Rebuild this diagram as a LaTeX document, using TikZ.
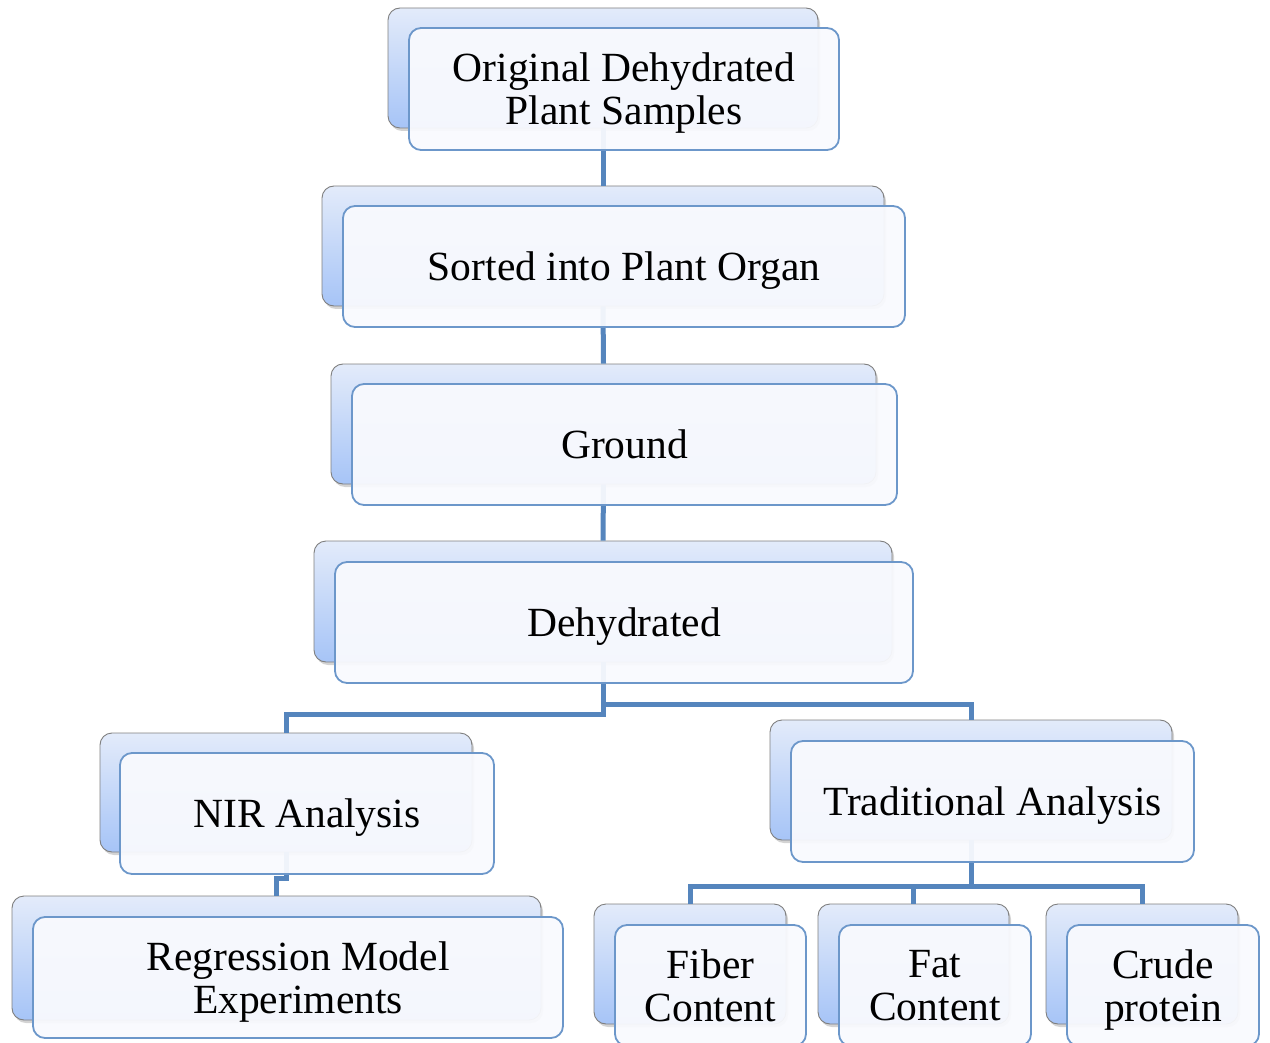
\documentclass[tikz,border=0pt]{standalone}
\usepackage{fontspec}
\setmainfont{Liberation Serif}
\usetikzlibrary{shadows}
\definecolor{backtop}{HTML}{E3EBFA}
\definecolor{backbot}{HTML}{A6C4F7}
\definecolor{backline}{HTML}{7F7F7F}
\definecolor{frontline}{HTML}{6C97CA}
\definecolor{frontfill}{HTML}{F9FAFE}
\definecolor{linkcol}{HTML}{5585BD}
\newcommand\boxfont{\fontsize{41.5}{43}\selectfont}
\tikzset{
  backbox/.style={draw=backline, line width=0.9pt, rounded corners=12pt,
    top color=backtop, bottom color=backbot, inner sep=0pt,
    drop shadow={opacity=0.35, shadow xshift=2pt, shadow yshift=-3pt}},
  frontbox/.style={draw=frontline, line width=1.8pt, rounded corners=12pt,
    fill=frontfill, fill opacity=0.94, inner sep=0pt},
  oneline/.style={font=\boxfont, inner sep=0pt, text height=27.5pt, text depth=0pt},
  twoline/.style={font=\boxfont, inner sep=0pt, align=center},
  link/.style={draw=linkcol, line width=5pt}
}
\begin{document}
\begin{tikzpicture}[x=1pt,y=-1pt]
\useasboundingbox (0,0) rectangle (1270,1043);
\clip (0,0) rectangle (1270,1043);

% back boxes
\node[backbox, minimum width=430, minimum height=120] (b1) at (603,68) {};
\node[backbox, minimum width=562, minimum height=120] (b2) at (603,246) {};
\node[backbox, minimum width=545, minimum height=120] (b3) at (603.5,424) {};
\node[backbox, minimum width=578, minimum height=121] (b4) at (603,601.5) {};
\node[backbox, minimum width=372, minimum height=119] (b5) at (286,792.5) {};
\node[backbox, minimum width=402, minimum height=120] (b6) at (971,780) {};
\node[backbox, minimum width=529, minimum height=124] (b7) at (276.5,958) {};
\node[backbox, minimum width=192, minimum height=120] (b8) at (690,964) {};
\node[backbox, minimum width=191, minimum height=120] (b9) at (913.5,964) {};
\node[backbox, minimum width=192, minimum height=120] (b10) at (1142,964) {};

% levels of the horizontal connector runs
\coordinate (lvlA) at (0,714);
\coordinate (lvlB) at (0,704);
\coordinate (lvlC) at (0,878);
\coordinate (lvlD) at (0,886);

% connectors
\draw[link] (b1.south) -- (b2.north);
\draw[link] (b2.south) -- (b3.north);
\draw[link] (b3.south) -- (b4.north);
\draw[link] (b4.south) -- (b4.south |- lvlA) -| (b5.north);
\draw[link] (b4.south |- lvlB) -| (b6.north);
\draw[link] (b5.south) -- (b5.south |- lvlC) -| (b7.north);
\draw[link] (b6.south) -- (b6.south |- lvlD);
\draw[link] (b8.north) |- (b10.north |- lvlD) -- (b10.north);
\draw[link] (b9.north) -- (b9.north |- lvlD);

% front boxes
\node[frontbox, minimum width=430, minimum height=122] (f1) at (624,89) {};
\node[frontbox, minimum width=562, minimum height=121] (f2) at (624,266.5) {};
\node[frontbox, minimum width=545, minimum height=121] (f3) at (624.5,444.5) {};
\node[frontbox, minimum width=578, minimum height=121] (f4) at (624,622.5) {};
\node[frontbox, minimum width=374, minimum height=121] (f5) at (307,813.5) {};
\node[frontbox, minimum width=403, minimum height=121] (f6) at (992.5,801.5) {};
\node[frontbox, minimum width=530, minimum height=121] (f7) at (298,977.5) {};
\node[frontbox, minimum width=191, minimum height=121] (f8) at (710.5,985.5) {};
\node[frontbox, minimum width=192, minimum height=121] (f9) at (935,985.5) {};
\node[frontbox, minimum width=192, minimum height=121] (f10) at (1163,985.5) {};

% labels
\node[twoline, yshift=-4.5pt] (t1) at (f1.center) {Original Dehydrated\\Plant Samples};
\node[oneline] (t2) at (f2.center) {Sorted into Plant Organ};
\node[oneline] (t3) at (f3.center) {Ground};
\node[oneline] (t4) at (f4.center) {Dehydrated};
\node[oneline] (t5) at (f5.center) {NIR Analysis};
\node[oneline] (t6) at (f6.center) {Traditional Analysis};
\node[twoline, yshift=-4.5pt] (t7) at (f7.center) {Regression Model\\Experiments};
\node[twoline] (t8) at (f8.center) {Fiber\\Content};
\node[twoline] (t9) at (f9.center) {Fat\\Content};
\node[twoline, yshift=-4.5pt] (t10) at (f10.center) {Crude\\protein};
\end{tikzpicture}
\end{document}
